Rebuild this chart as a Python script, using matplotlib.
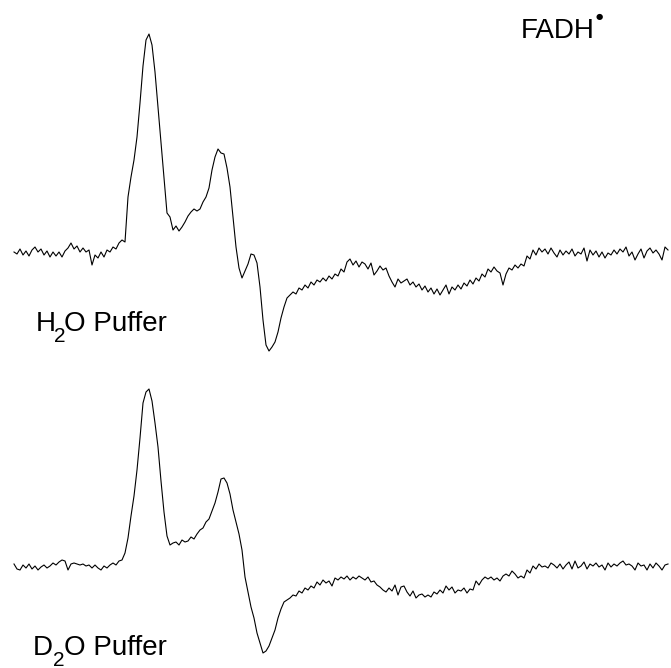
import numpy as np
import matplotlib
matplotlib.use("Agg")
import matplotlib.pyplot as plt

plt.rcParams["font.family"] = ["Liberation Sans", "DejaVu Sans"]

# EPR signal (a.u.), sampled every 3 field units starting at 14
signal_h2o = [
    0, -2, 3, -3, 1, -4, 2, 5, 0, 3, -3, 1, -5, 0, -4, 0, -5, 1, 4, 9,
    3, 6, 0, 4, 0, 2, -13, -3, -6, 0, -5, 2, 0, 5, 3, 9, 12, 10, 55, 75,
    92, 115, 149, 186, 212, 218, 207, 180, 145, 111, 75, 39, 35, 22, 26, 21, 25, 30, 36, 40,
    43, 41, 43, 50, 55, 64, 82, 95, 103, 99, 98, 84, 65, 35, 5, -16, -26, -19, -12, -2,
    -3, -11, -35, -68, -93, -99, -95, -90, -80, -66, -55, -46, -43, -40, -42, -36, -38, -33, -36, -30,
    -33, -28, -30, -26, -29, -24, -27, -22, -24, -17, -20, -10, -7, -13, -9, -15, -10, -12, -17, -11,
    -23, -19, -14, -18, -16, -24, -30, -35, -27, -31, -29, -27, -33, -30, -35, -32, -38, -34, -40, -36,
    -42, -37, -43, -38, -33, -42, -35, -38, -33, -37, -31, -34, -28, -32, -26, -29, -22, -25, -17, -20,
    -15, -19, -21, -33, -22, -16, -18, -13, -16, -12, -14, -4, -7, 2, -3, 4, 0, 3, -2, 4,
    -1, -5, 2, -3, 1, -2, 3, -4, 0, -2, 4, -9, 2, -3, 1, -5, 0, -6, -1, -3,
    2, -2, 3, 0, 5, -4, 0, -8, -2, 3, -6, 1, 4, -1, 2, -2, -8, 5, 2,
]

signal_d2o = [
    2, -3, -4, 1, -2, 2, -3, 0, -4, -1, 1, -2, 0, 3, 1, 4, 6, 5, -4, 2,
    3, 2, 1, 2, 0, 1, -2, 1, -2, -4, 0, -2, 1, 3, 1, 5, 6, 13, 28, 50,
    70, 96, 128, 163, 174, 177, 165, 143, 119, 85, 54, 30, 21, 23, 24, 21, 26, 24, 25, 29,
    27, 32, 36, 38, 44, 47, 55, 63, 74, 87, 88, 83, 72, 56, 44, 32, 16, -11, -26, -41,
    -52, -67, -77, -87, -85, -80, -72, -64, -52, -43, -36, -34, -32, -29, -30, -25, -27, -22, -24, -20,
    -22, -16, -19, -14, -17, -15, -20, -12, -14, -11, -13, -10, -14, -11, -13, -10, -12, -14, -11, -16,
    -15, -19, -21, -24, -26, -22, -25, -19, -29, -21, -20, -26, -30, -25, -32, -29, -28, -31, -29, -31,
    -26, -28, -24, -27, -20, -24, -21, -27, -24, -25, -22, -27, -23, -24, -15, -19, -14, -11, -13, -11,
    -14, -12, -15, -10, -8, -10, -5, -8, -12, -10, -12, -4, -7, 0, -3, 2, -1, 0, -2, 3,
    1, -2, 2, -3, 1, 4, -3, 5, -2, 0, 4, -3, 2, 0, 3, -1, 1, -4, 3, -1,
    2, 0, 3, 5, 1, 2, 0, -4, 3, 0, 1, -4, 2, -2, 3, 0, -4, 1, 2,
]

# label pieces: element, subscript, rest
label_h2o = ["H", "2", "O Puffer"]
label_d2o = ["D", "2", "O Puffer"]
title = "FADH"
radical_dot = "\u25CF"

field_h2o = 14 + 3 * np.arange(len(signal_h2o))
field_d2o = 14 + 3 * np.arange(len(signal_d2o))

fig = plt.figure(figsize=(6.71, 6.68), dpi=100)
ax = fig.add_axes([0, 0, 1, 1])
ax.set_xlim(0, 671)
ax.set_ylim(668, 0)
ax.axis("off")

# stacked traces, offset vertically
ax.plot(field_h2o, 252 - np.array(signal_h2o), color="black", lw=0.8)
ax.plot(field_d2o, 566 - np.array(signal_d2o), color="black", lw=0.8)


def chem_label(x0, x_sub, x_rest, base, parts):
    ax.text(x0, base, parts[0], fontsize=20, va="baseline", ha="left")
    ax.text(x_sub, base + 11, parts[1], fontsize=15, va="baseline", ha="left")
    ax.text(x_rest, base, parts[2], fontsize=20, va="baseline", ha="left")


chem_label(36, 54, 64, 331, label_h2o)
chem_label(33, 53, 64, 655, label_d2o)

ax.text(521, 38, title, fontsize=20, va="baseline", ha="left")
ax.text(599, 17, radical_dot, fontsize=6, va="center", ha="center",
        family="DejaVu Sans")

fig.savefig("out.png", dpi=100)
